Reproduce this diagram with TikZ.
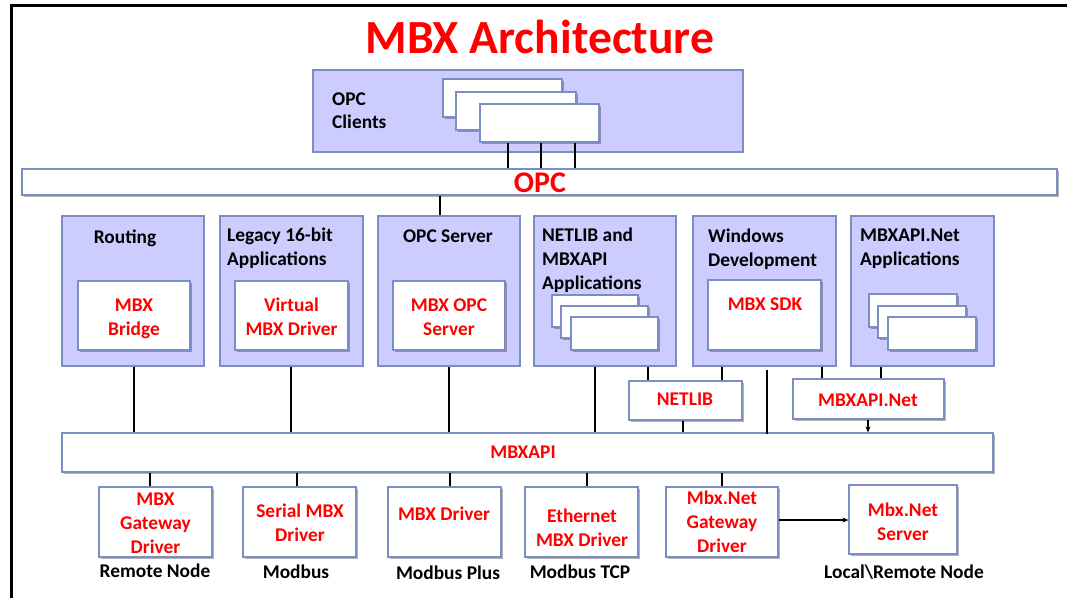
\documentclass[tikz,border=0pt]{standalone}
\usepackage{fontspec}
\setmainfont{Carlito}
\usetikzlibrary{shadows,arrows.meta}
\definecolor{lav}{RGB}{204,204,255}
\definecolor{bord}{RGB}{124,141,196}
\tikzset{
  lavbox/.style={draw=bord,fill=lav,line width=1.1pt,inner sep=0pt},
  wbox/.style={draw=bord,fill=white,line width=1.1pt,inner sep=0pt,
    drop shadow={shadow xshift=2pt,shadow yshift=-2pt,opacity=0.3,fill=black}},
  rt/.style={text=red,font=\fontsize{19.4}{24}\selectfont\bfseries,align=center,inner sep=0pt,anchor=base},
  bt/.style={text=black,font=\fontsize{19.4}{24}\selectfont\bfseries,align=center,inner sep=0pt,anchor=base},
  btl/.style={bt,align=left,anchor=base west},
  conn/.style={draw=black,line width=1.3pt},
  frame/.style={draw=black,line width=3pt}
}
% rectangle by corners: \rbox{name}{style}{x1}{y1}{x2}{y2}
\newcommand{\rbox}[6]{\node[#2,minimum width=#5pt-#3pt,minimum height=#6pt-#4pt] (#1) at ({(#3+#5)/2},{(#4+#6)/2}) {};}
\begin{document}
\begin{tikzpicture}[x=1pt,y=-1pt]
\useasboundingbox (0,0) rectangle (1067,598);
% frame
\draw[frame] (10,5) -- (1067,5);
\draw[frame] (11.5,5) -- (11.5,598);
% title
\node[text=red,font=\fontsize{47.6}{50}\selectfont\bfseries,inner sep=0pt,anchor=base] (title) at (540,53) {MBX Architecture};
% OPC clients
\rbox{clients}{lavbox}{313}{70}{743}{152}
\node[btl,font=\fontsize{19.4}{23}\selectfont\bfseries] (clientst) at (332,128) {OPC\\Clients};
\rbox{c1}{wbox}{443}{79}{562}{117}
\rbox{c2}{wbox}{456}{92}{576}{130}
\rbox{c3}{wbox}{480}{104}{599}{142}
% OPC bar
\rbox{opc}{wbox}{22}{169}{1057}{195}
\node[rt,font=\fontsize{30}{32}\selectfont\bfseries] (opct) at (540,192) {OPC};
% middle boxes
\rbox{routing}{lavbox}{62}{216}{204}{366}
\node[bt] (routingt) at (125,243) {Routing};
\rbox{bridge}{wbox}{78}{281}{190}{350}
\node[rt] (bridget) at (134,335) {MBX\\Bridge};

\rbox{legacy}{lavbox}{220}{216}{363}{366}
\node[btl] (legacyt) at (227,265) {Legacy 16-bit\\Applications};
\rbox{virt}{wbox}{235}{281}{348}{350}
\node[rt] (virtt) at (291.5,335) {Virtual\\MBX Driver};

\rbox{opcs}{lavbox}{378}{216}{520}{366}
\node[bt] (opcst) at (448,242) {OPC Server};
\rbox{mbxopc}{wbox}{393}{281}{505}{350}
\node[rt] (mbxopct) at (449,335) {MBX OPC\\Server};

\rbox{nlapps}{lavbox}{534}{216}{676}{366}
\node[btl] (nlappst) at (542,289) {NETLIB and\\MBXAPI\\Applications};
\rbox{n1}{wbox}{552}{295}{638}{327}
\rbox{n2}{wbox}{561}{306}{648}{338}
\rbox{n3}{wbox}{571}{317}{658}{350}

\rbox{windev}{lavbox}{693}{216}{836}{366}
\node[btl] (windevt) at (708,266) {Windows\\Development};
\rbox{sdk}{wbox}{708}{280}{821}{350}
\node[rt] (sdkt) at (765,310) {MBX SDK};

\rbox{netapps}{lavbox}{851}{216}{994}{366}
\node[btl] (netappst) at (860,265) {MBXAPI.Net\\Applications};
\rbox{m1}{wbox}{869}{294}{957}{327}
\rbox{m2}{wbox}{878}{306}{966}{338}
\rbox{m3}{wbox}{888}{317}{976}{350}

% NETLIB and MBXAPI.Net boxes
\rbox{netlib}{wbox}{629}{381}{742}{420}
\node[rt] (netlibt) at (685,405) {NETLIB};
\rbox{mbxnet}{wbox}{793}{379}{944}{419}
\node[rt] (mbxnett) at (868,406) {MBXAPI.Net};

% MBXAPI bar
\rbox{mbxapi}{wbox}{62}{433}{993}{472}
\node[rt] (mbxapit) at (523,458) {MBXAPI};

% bottom boxes
\rbox{gw}{wbox}{99}{487}{212}{557}
\node[rt] (gwt) at (155.5,553) {MBX\\Gateway\\Driver};
\rbox{serial}{wbox}{243}{487}{356}{557}
\node[rt] (serialt) at (300,541) {Serial MBX\\Driver};
\rbox{drv}{wbox}{388}{487}{501}{557}
\node[rt] (drvt) at (444,520) {MBX Driver};
\rbox{eth}{wbox}{525}{487}{638}{557}
\node[rt] (etht) at (582,546) {Ethernet\\MBX Driver};
\rbox{ngw}{wbox}{666}{487}{778}{557}
\node[rt] (ngwt) at (722,552) {Mbx.Net\\Gateway\\Driver};
\rbox{nsrv}{wbox}{849}{485}{957}{554}
\node[rt] (nsrvt) at (903,540) {Mbx.Net\\Server};

% bottom labels
\node[bt] (l1) at (155,577) {Remote Node};
\node[bt] (l2) at (296,578) {Modbus};
\node[bt] (l3) at (448,579) {Modbus Plus};
\node[bt] (l4) at (580,578) {Modbus TCP};
\node[bt] (l5) at (904,578) {Local\textbackslash Remote Node};

% connectors
\foreach \xx in {508,541,575} \draw[conn] (c3.south -| \xx,0) -- (opc.north -| \xx,0);
\draw[conn] (opc.south -| 440,0) -- (opcs.north -| 440,0);
\draw[conn] (routing.south -| 134,0) -- (mbxapi.north -| 134,0);
\draw[conn] (legacy.south -| 291,0) -- (mbxapi.north -| 291,0);
\draw[conn] (opcs.south -| 449,0) -- (mbxapi.north -| 449,0);
\draw[conn] (nlapps.south -| 595,0) -- (mbxapi.north -| 595,0);
\draw[conn] (nlapps.south -| 648,0) -- (netlib.north -| 648,0);
\draw[conn] (windev.south -| 722,0) -- (netlib.north -| 722,0);
\draw[conn] (netlib.south -| 683,0) -- (mbxapi.north -| 683,0);
\draw[conn] ([yshift=-3pt]windev.south -| 767,0) -- ([yshift=-2pt]mbxapi.north -| 767,0);
\draw[conn] (windev.south -| 822,0) -- (mbxnet.north -| 822,0);
\draw[conn] (netapps.south -| 881,0) -- (mbxnet.north -| 881,0);
\draw[conn,-{Stealth[length=6pt,width=5pt]}] (mbxnet.south -| 868,0) -- (mbxapi.north -| 868,0);
\draw[conn] (mbxapi.south -| 150,0) -- (gw.north -| 150,0);
\draw[conn] (mbxapi.south -| 297,0) -- (serial.north -| 297,0);
\draw[conn] (mbxapi.south -| 450,0) -- (drv.north -| 450,0);
\draw[conn] (mbxapi.south -| 587,0) -- (eth.north -| 587,0);
\draw[conn] (mbxapi.south -| 722,0) -- (ngw.north -| 722,0);
\draw[conn,-{Stealth[length=6pt,width=5pt]}] (ngw.east |- 0,520) -- (nsrv.west |- 0,520);
\end{tikzpicture}
\end{document}
